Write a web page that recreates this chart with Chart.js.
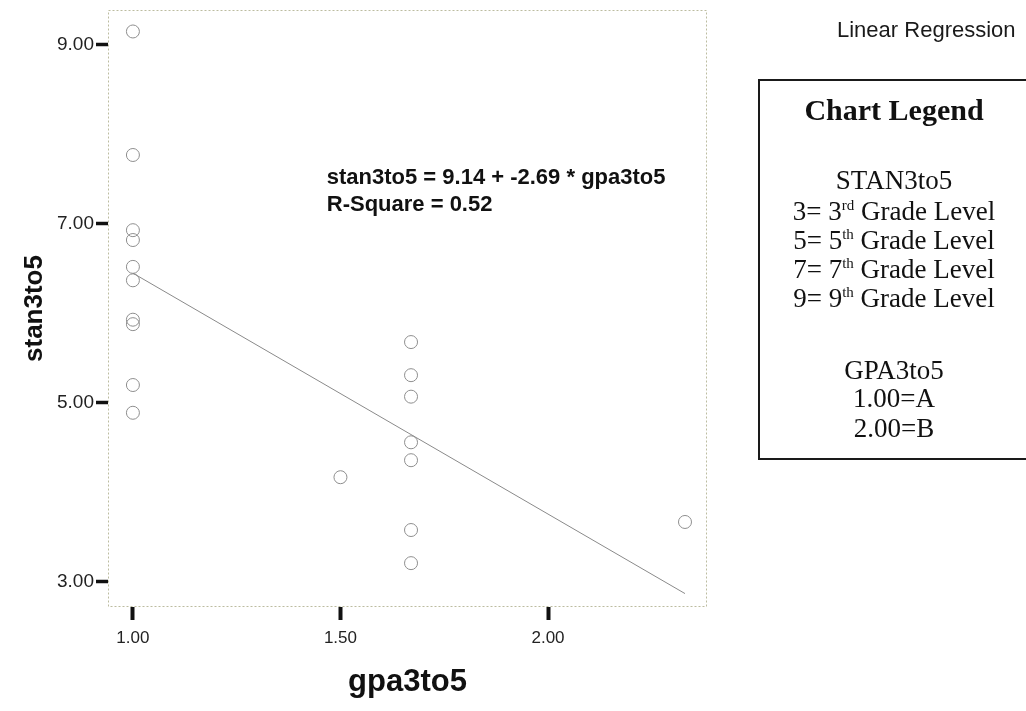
<!DOCTYPE html>
<html>
<head>
<meta charset="utf-8">
<script src="https://cdn.jsdelivr.net/npm/chart.js@4.4.1/dist/chart.umd.min.js"></script>
<style>
  html, body { margin:0; padding:0; background:#fff; }
  body { width:1026px; height:711px; overflow:hidden; position:relative; font-family:"Liberation Sans", Arial, sans-serif; }
  #c { position:absolute; left:0; top:0; }
  #lr { position:absolute; left:837px; top:16px; font-size:22px; line-height:27px; color:#1a1a1a; white-space:nowrap; }
  #legend { position:absolute; left:758px; top:79px; width:272px; height:381px; box-sizing:border-box; border:2px solid #1a1a1a; font-family:"Liberation Serif", "Times New Roman", serif; color:#111; }
  #legend div { position:absolute; left:0; width:100%; text-align:center; white-space:nowrap; font-size:27px; line-height:29px; }
  #legend .ttl { font-weight:bold; font-size:30px; line-height:34px; }
  #legend sup { font-size:15px; vertical-align:10px; line-height:0; }
</style>
</head>
<body>
<canvas id="c" width="1026" height="711"></canvas>
<div id="lr">Linear Regression</div>
<div id="legend">
  <div class="ttl" style="top:12px">Chart Legend</div>
  <div style="top:85px">STAN3to5</div>
  <div style="top:116px">3= 3<sup>rd</sup> Grade Level</div>
  <div style="top:145px">5= 5<sup>th</sup> Grade Level</div>
  <div style="top:174px">7= 7<sup>th</sup> Grade Level</div>
  <div style="top:203px">9= 9<sup>th</sup> Grade Level</div>
  <div style="top:275px">GPA3to5</div>
  <div style="top:303px">1.00=A</div>
  <div style="top:333px">2.00=B</div>
</div>
<script>
// ---- data ----
const gpaValues  = [1.00, 1.00, 1.00, 1.00, 1.00, 1.00, 1.00, 1.00, 1.00, 1.00,
                    1.50,
                    1.67, 1.67, 1.67, 1.67, 1.67, 1.67, 1.67,
                    2.33];
const stanValues = [9.15, 7.77, 6.93, 6.82, 6.52, 6.37, 5.93, 5.88, 5.20, 4.89,
                    4.17,
                    5.68, 5.31, 5.07, 4.56, 4.36, 3.58, 3.21,
                    3.67];
const fitLineX = [1.00, 2.33];
const fitLineY = [6.45, 2.87];
const xTickValues = [1.00, 1.50, 2.00];
const yTickValues = [3.00, 5.00, 7.00, 9.00];
const equationLines = ['stan3to5 = 9.14 + -2.69 * gpa3to5', 'R-Square = 0.52'];
const equationAnchor = [1.467, 7.45];

const sans = '"Liberation Sans", Arial, sans-serif';

const framePlugin = {
  id: 'frame',
  beforeDatasetsDraw(chart) {
    const { ctx, chartArea: a } = chart;
    ctx.save();
    ctx.strokeStyle = '#bcbca0';
    ctx.lineWidth = 1;
    ctx.setLineDash([2, 2]);
    ctx.strokeRect(a.left + 0.5, a.top + 0.5, a.right - a.left - 1, a.bottom - a.top - 1);
    ctx.restore();
  },
  afterDatasetsDraw(chart) {
    const { ctx, scales } = chart;
    const x = scales.x.getPixelForValue(equationAnchor[0]);
    const y = scales.y.getPixelForValue(equationAnchor[1]);
    ctx.save();
    ctx.fillStyle = '#111';
    ctx.font = 'bold 22px ' + sans;
    ctx.textBaseline = 'alphabetic';
    ctx.textAlign = 'left';
    equationLines.forEach((t, i) => ctx.fillText(t, x, y + i * 27));
    ctx.restore();
  }
};

const points = gpaValues.map((g, i) => ({ x: g, y: stanValues[i] }));
const fitPoints = fitLineX.map((g, i) => ({ x: g, y: fitLineY[i] }));

new Chart(document.getElementById('c').getContext('2d'), {
  type: 'scatter',
  data: {
    datasets: [
      {
        type: 'line',
        data: fitPoints,
        borderColor: '#8a8a8a',
        borderWidth: 1,
        pointRadius: 0,
        fill: false,
        tension: 0
      },
      {
        data: points,
        pointStyle: 'circle',
        pointRadius: 6.5,
        pointBorderWidth: 1,
        pointBorderColor: '#8e8e8e',
        pointBackgroundColor: 'rgba(255,255,255,0)',
        showLine: false
      }
    ]
  },
  options: {
    responsive: false,
    animation: false,
    devicePixelRatio: 1,
    layout: { padding: { left: 0, top: 10, right: 319, bottom: 0 } },
    plugins: { legend: { display: false }, tooltip: { enabled: false } },
    scales: {
      x: {
        type: 'linear',
        min: 0.94,
        max: 2.383,
        afterBuildTicks: s => { s.ticks = xTickValues.map(v => ({ value: v })); },
        afterFit: s => { s.height = 104; s.paddingLeft = 0; s.paddingRight = 0; },
        border: { display: false },
        grid: { display: true, drawOnChartArea: false, drawTicks: true, tickLength: 13, tickWidth: 4, tickColor: '#111' },
        ticks: { font: { family: sans, size: 17 }, color: '#222', padding: 8, maxRotation: 0, callback: v => Number(v).toFixed(2) },
        title: { display: true, text: 'gpa3to5', color: '#111', font: { family: sans, size: 31, weight: 'bold' }, padding: { top: 0, bottom: 10 } }
      },
      y: {
        type: 'linear',
        min: 2.72,
        max: 9.39,
        afterBuildTicks: s => { s.ticks = yTickValues.map(v => ({ value: v })); },
        afterFit: s => { s.width = 108; s.paddingTop = 0; s.paddingBottom = 0; },
        border: { display: false },
        grid: { display: true, drawOnChartArea: false, drawTicks: true, tickLength: 12, tickWidth: 3.5, tickColor: '#111' },
        ticks: { font: { family: sans, size: 19 }, color: '#222', padding: 2, callback: v => Number(v).toFixed(2) },
        title: { display: true, text: 'stan3to5', color: '#111', font: { family: sans, size: 26, weight: 'bold' }, padding: { top: 19, bottom: 0 } }
      }
    }
  },
  plugins: [framePlugin]
});
</script>
</body>
</html>
